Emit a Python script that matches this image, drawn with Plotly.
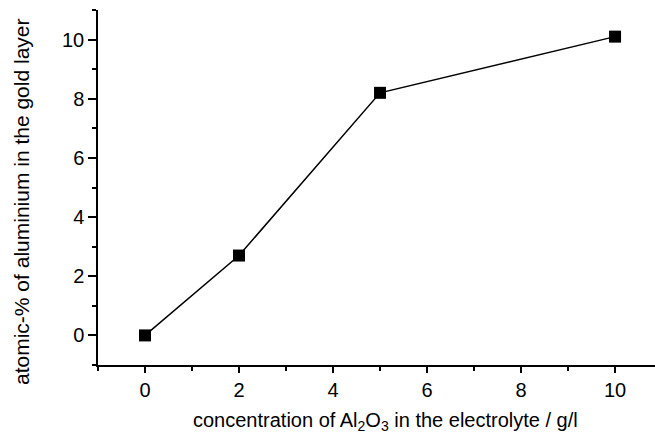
import plotly.graph_objects as go

concentration = [0, 2, 5, 10]
atomic_percent = [0, 2.7, 8.2, 10.1]

x_ticks = [0, 2, 4, 6, 8, 10]
y_ticks = [0, 2, 4, 6, 8, 10]

x_title = "concentration of Al<sub>2</sub>O<sub>3</sub> in the electrolyte / g/l"
y_title = "atomic-% of aluminium in the gold layer"

W, H = 655, 437
L, R, T, B = 98, 0, 10, 72
pw, ph = W - L - R, H - T - B

fig = go.Figure()
fig.add_trace(go.Scatter(
    x=concentration, y=atomic_percent, mode="lines+markers",
    line=dict(color="black", width=1.5),
    marker=dict(symbol="square", size=12, color="black"),
    showlegend=False,
))

font = dict(family="Liberation Sans, Arial, sans-serif", size=20, color="black")

fig.update_layout(
    width=W, height=H,
    margin=dict(l=L, r=R, t=T, b=B),
    plot_bgcolor="white", paper_bgcolor="white",
    font=font,
)
fig.update_xaxes(
    range=[-1, 10.85], tickvals=x_ticks, ticktext=[str(v) for v in x_ticks],
    tickfont=font,
    showline=True, linecolor="black", linewidth=1.5, mirror=False,
    ticks="outside", ticklen=6, tickwidth=1.5, tickcolor="black",
    minor=dict(ticks="outside", ticklen=4, tickwidth=1.5, tickcolor="black", dtick=1, tick0=1, showgrid=False),
    showgrid=False, zeroline=False,
)
fig.update_yaxes(
    range=[-1, 11], tickvals=y_ticks, ticktext=[str(v) for v in y_ticks],
    tickfont=font,
    showline=True, linecolor="black", linewidth=1.5, mirror=False,
    ticks="outside", ticklen=8, tickwidth=1.5, tickcolor="black",
    minor=dict(ticks="outside", ticklen=4, tickwidth=1.5, tickcolor="black", dtick=1, tick0=1, showgrid=False),
    showgrid=False, zeroline=False,
)

def px_to_paper_x(px):
    return (px - L) / pw

def px_to_paper_y(py):
    return (H - B - py) / ph

fig.add_annotation(
    text=x_title, xref="paper", yref="paper",
    x=px_to_paper_x(385), y=px_to_paper_y(421),
    xanchor="center", yanchor="middle", showarrow=False,
    font=font,
)
fig.add_annotation(
    text=y_title, xref="paper", yref="paper",
    x=px_to_paper_x(22), y=px_to_paper_y(202),
    xanchor="center", yanchor="middle", showarrow=False, textangle=-90,
    font=dict(family=font["family"], size=21, color="black"),
)

fig.write_html("out.html")
